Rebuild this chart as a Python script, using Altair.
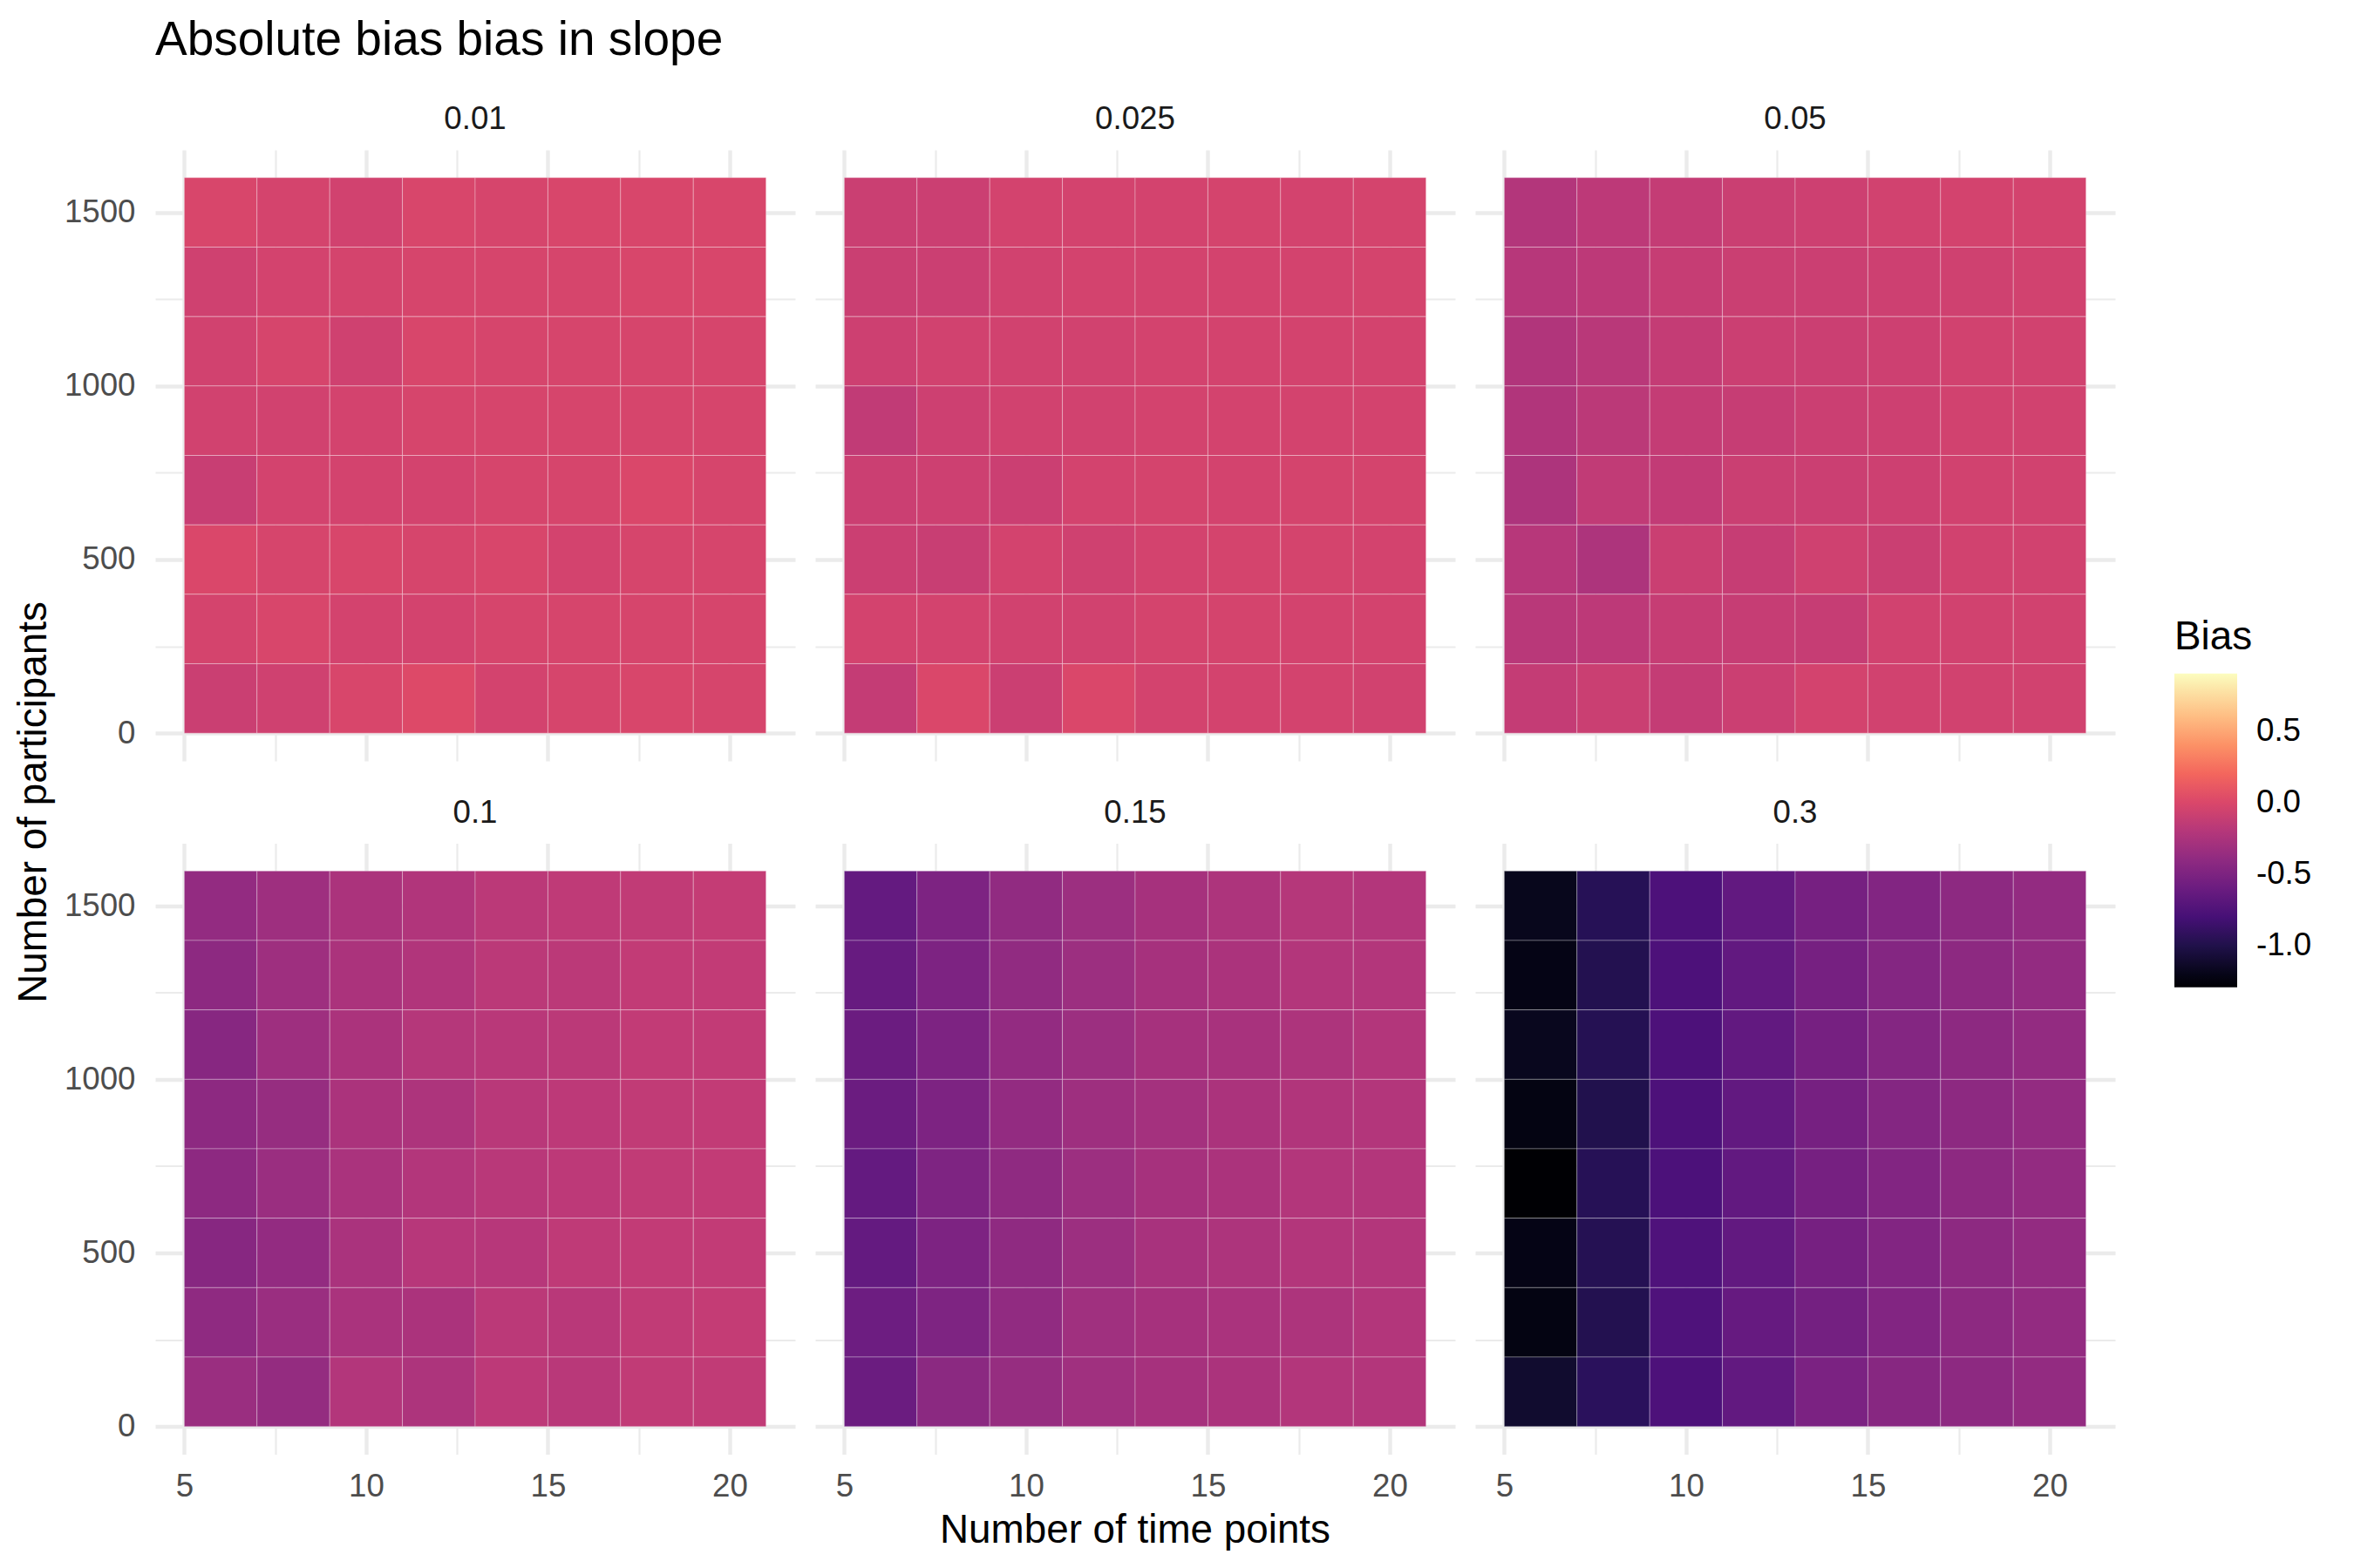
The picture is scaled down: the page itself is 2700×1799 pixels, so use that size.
import altair as alt
import pandas as pd

FONT = "Liberation Sans"

# facet labels (simulation condition)
sd_levels = ["0.01", "0.025", "0.05", "0.1", "0.15", "0.3"]
# tile centres
time_points = [6, 8, 10, 12, 14, 16, 18, 20]
participants = [1500, 1300, 1100, 900, 700, 500, 300, 100]  # rows, top to bottom

# bias values, one row per participants value (top to bottom), one column per time point
bias_0_01 = [
    [-0.01, -0.03, -0.05, -0.01, -0.02, -0.01, -0.01, -0.01],
    [-0.06, -0.04, -0.03, -0.02, -0.02, -0.02, -0.01, -0.01],
    [-0.05, -0.02, -0.06, -0.01, -0.02, -0.02, -0.02, -0.02],
    [-0.05, -0.05, -0.04, -0.02, -0.02, -0.02, -0.02, -0.02],
    [-0.10, -0.04, -0.04, -0.04, -0.02, -0.02, 0.00, -0.02],
    [0.00, -0.02, -0.01, -0.02, -0.01, -0.04, -0.02, -0.02],
    [-0.03, -0.01, -0.04, -0.04, -0.02, -0.02, -0.02, -0.02],
    [-0.09, -0.06, -0.01, 0.02, -0.04, -0.02, -0.01, -0.02],
]
bias_0_025 = [
    [-0.09, -0.08, -0.04, -0.04, -0.04, -0.03, -0.04, -0.03],
    [-0.09, -0.08, -0.05, -0.04, -0.04, -0.04, -0.04, -0.03],
    [-0.07, -0.05, -0.05, -0.05, -0.04, -0.04, -0.04, -0.04],
    [-0.14, -0.07, -0.05, -0.05, -0.04, -0.04, -0.04, -0.04],
    [-0.08, -0.07, -0.08, -0.04, -0.03, -0.04, -0.03, -0.03],
    [-0.08, -0.10, -0.04, -0.06, -0.04, -0.03, -0.03, -0.04],
    [-0.04, -0.04, -0.05, -0.05, -0.03, -0.03, -0.04, -0.04],
    [-0.12, 0.00, -0.08, 0.00, -0.04, -0.04, -0.04, -0.05],
]
bias_0_05 = [
    [-0.21, -0.16, -0.12, -0.09, -0.07, -0.05, -0.04, -0.04],
    [-0.19, -0.16, -0.11, -0.09, -0.08, -0.07, -0.06, -0.05],
    [-0.22, -0.18, -0.12, -0.08, -0.08, -0.07, -0.05, -0.05],
    [-0.22, -0.17, -0.12, -0.11, -0.08, -0.07, -0.05, -0.05],
    [-0.24, -0.14, -0.13, -0.09, -0.08, -0.07, -0.05, -0.05],
    [-0.19, -0.24, -0.09, -0.11, -0.06, -0.09, -0.05, -0.05],
    [-0.18, -0.16, -0.11, -0.11, -0.11, -0.05, -0.05, -0.05],
    [-0.12, -0.09, -0.12, -0.08, -0.04, -0.05, -0.05, -0.05],
]
bias_0_1 = [
    [-0.38, -0.32, -0.25, -0.22, -0.17, -0.15, -0.14, -0.12],
    [-0.41, -0.32, -0.25, -0.22, -0.17, -0.17, -0.13, -0.13],
    [-0.44, -0.32, -0.25, -0.20, -0.18, -0.17, -0.13, -0.13],
    [-0.41, -0.36, -0.25, -0.24, -0.18, -0.16, -0.14, -0.13],
    [-0.41, -0.34, -0.26, -0.21, -0.18, -0.16, -0.14, -0.13],
    [-0.44, -0.38, -0.26, -0.19, -0.19, -0.15, -0.13, -0.13],
    [-0.40, -0.34, -0.26, -0.25, -0.17, -0.18, -0.14, -0.12],
    [-0.34, -0.37, -0.21, -0.24, -0.16, -0.18, -0.14, -0.14],
]
bias_0_15 = [
    [-0.64, -0.50, -0.39, -0.33, -0.28, -0.24, -0.20, -0.21],
    [-0.62, -0.50, -0.39, -0.33, -0.28, -0.25, -0.21, -0.21],
    [-0.60, -0.50, -0.38, -0.33, -0.28, -0.27, -0.24, -0.21],
    [-0.60, -0.50, -0.38, -0.32, -0.29, -0.25, -0.22, -0.21],
    [-0.64, -0.49, -0.40, -0.33, -0.28, -0.25, -0.21, -0.21],
    [-0.64, -0.50, -0.40, -0.33, -0.27, -0.24, -0.21, -0.21],
    [-0.59, -0.49, -0.39, -0.31, -0.28, -0.26, -0.24, -0.21],
    [-0.60, -0.42, -0.36, -0.31, -0.28, -0.25, -0.21, -0.21],
]
bias_0_3 = [
    [-1.18, -0.96, -0.76, -0.65, -0.54, -0.47, -0.41, -0.38],
    [-1.21, -0.98, -0.76, -0.65, -0.54, -0.46, -0.41, -0.38],
    [-1.17, -0.97, -0.76, -0.65, -0.54, -0.46, -0.41, -0.38],
    [-1.22, -0.99, -0.76, -0.65, -0.54, -0.46, -0.41, -0.38],
    [-1.29, -0.96, -0.77, -0.65, -0.54, -0.47, -0.41, -0.38],
    [-1.21, -0.97, -0.75, -0.65, -0.54, -0.47, -0.41, -0.38],
    [-1.22, -0.98, -0.75, -0.63, -0.55, -0.47, -0.41, -0.38],
    [-1.10, -0.94, -0.76, -0.65, -0.51, -0.44, -0.41, -0.38],
]
bias_limits = [-1.29, 0.9]
legend_values = [-1.0, -0.5, 0.0, 0.5]

panels = [bias_0_01, bias_0_025, bias_0_05, bias_0_1, bias_0_15, bias_0_3]

records = []
for i, (lab, grid) in enumerate(zip(sd_levels, panels)):
    for r, n in enumerate(participants):
        for c, tp in enumerate(time_points):
            records.append({"sd": lab, "prow": i // 3, "pcol": i % 3,
                            "tp": tp, "n": n, "bias": grid[r][c]})
df = pd.DataFrame(records)

grid_col = "#EBEBEB"

x_axis = alt.Axis(
    values=[5, 7.5, 10, 12.5, 15, 17.5, 20], format="d",
    labelExpr="datum.value % 5 === 0 ? datum.label : ''",
    title=None, domain=False, ticks=False, tickSize=0,
    labelFont=FONT, labelFontSize=36.7, labelColor="#4D4D4D", labelPadding=18,
    gridColor=grid_col,
    gridWidth={"condition": {"test": "datum.value % 5 !== 0", "value": 2.2}, "value": 4.4},
)
y_axis = alt.Axis(
    values=[0, 250, 500, 750, 1000, 1250, 1500], format="d",
    labelExpr="datum.value % 500 === 0 ? datum.label : ''",
    title=None, domain=False, ticks=False, tickSize=0,
    labelFont=FONT, labelFontSize=36.7, labelColor="#4D4D4D", labelPadding=23,
    gridColor=grid_col,
    gridWidth={"condition": {"test": "datum.value % 500 !== 0", "value": 2.2}, "value": 4.4},
)

tiles = alt.Chart().mark_rect(stroke="white", strokeWidth=1, strokeOpacity=0.3).transform_calculate(
    x0="datum.tp - 1", x1="datum.tp + 1", y0="datum.n - 100", y1="datum.n + 100"
).encode(
    x=alt.X("x0:Q", scale=alt.Scale(domain=[4.2, 21.8], nice=False, zero=False), axis=x_axis),
    x2="x1:Q",
    y=alt.Y("y0:Q", scale=alt.Scale(domain=[-80, 1680], nice=False, zero=False), axis=y_axis),
    y2="y1:Q",
    color=alt.Color(
        "bias:Q",
        scale=alt.Scale(scheme="magma", domain=bias_limits),
        legend=alt.Legend(
            title="Bias", orient="none", legendX=2316, legendY=537,
            direction="vertical", gradientLength=360, gradientThickness=72,
            values=legend_values, format=".1f",
            labelExpr="replace(datum.label, '\u2212', '-')",
            labelFont=FONT, labelFontSize=36.7, labelColor="black", labelOffset=22,
            titleFont=FONT, titleFontSize=45.8, titleFontWeight="normal", titleColor="black",
            titlePadding=18, gradientStrokeWidth=0,
        ),
    ),
)

# facet strip label above each panel
strip = alt.Chart().mark_text(
    font=FONT, fontSize=36.7, color="#1A1A1A", baseline="alphabetic", align="center"
).transform_filter("datum.tp == 6 && datum.n == 100").encode(
    x=alt.value(367), y=alt.value(-24), text="sd:N"
)

# shared y-axis title, centred on the two panel rows
ytitle = alt.Chart().mark_text(
    font=FONT, fontSize=45.8, color="black", angle=270, baseline="alphabetic", align="center"
).transform_filter("datum.sd == '0.1' && datum.tp == 6 && datum.n == 100").encode(
    x=alt.value(-124.6), y=alt.value(-47), text=alt.value("Number of participants")
)

# shared x-axis title, centred under the three panel columns
xtitle = alt.Chart().mark_text(
    font=FONT, fontSize=45.8, color="black", baseline="alphabetic", align="center"
).transform_filter("datum.sd == '0.15' && datum.tp == 6 && datum.n == 100").encode(
    x=alt.value(367), y=alt.value(802), text=alt.value("Number of time points")
)

chart = alt.layer(tiles, strip, ytitle, xtitle, data=df).properties(width=734, height=701).facet(
    row=alt.Row("prow:O", title=None, header=alt.Header(labels=False, labelPadding=0)),
    column=alt.Column("pcol:O", title=None, header=alt.Header(labels=False, labelPadding=0)),
    spacing={"row": 94.5, "column": 23},
    bounds="flush",
).properties(
    title=alt.Title("Absolute bias bias in slope", anchor="start", frame="group",
                    font=FONT, fontSize=55, fontWeight="normal", color="black", offset=44),
    padding={"left": 8, "top": 11, "right": 5, "bottom": 0},
).configure(background="white").configure_view(stroke=None)

chart.save("out.html", embed_options={"renderer": "svg", "actions": False})
